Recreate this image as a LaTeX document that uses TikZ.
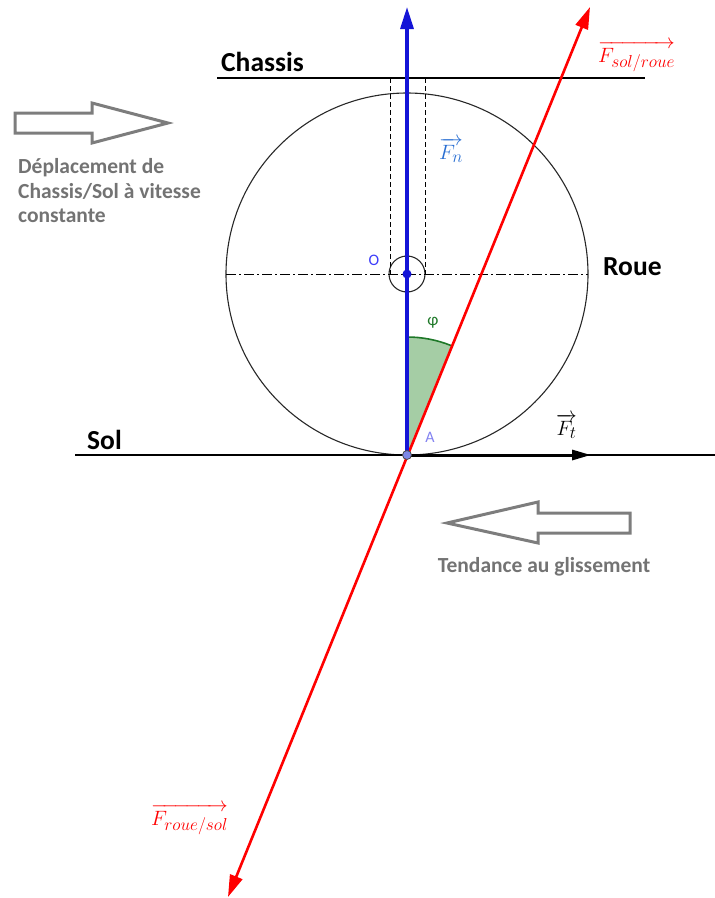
\documentclass[tikz,border=0pt]{standalone}
\usepackage{fontspec}
\setsansfont{Carlito}
\DeclareMathSizes{22}{22}{17}{13}
\usetikzlibrary{arrows.meta}
\definecolor{bluevec}{RGB}{20,20,215}
\definecolor{fnblue}{RGB}{40,110,210}
\definecolor{oblue}{RGB}{60,60,250}
\definecolor{alabel}{RGB}{130,130,240}
\definecolor{adot}{RGB}{125,135,230}
\definecolor{redvec}{RGB}{255,0,0}
\definecolor{angdark}{RGB}{30,120,40}
\definecolor{angfill}{RGB}{165,205,165}
\definecolor{hollow}{RGB}{125,125,125}
\definecolor{graytext}{RGB}{115,115,115}
\definecolor{wheel}{RGB}{40,40,40}
\tikzset{
  biglabel/.style={font=\sffamily\bfseries\fontsize{27.5}{32}\selectfont, inner sep=0pt, anchor=base west},
  graylabel/.style={font=\sffamily\bfseries\fontsize{21.5}{25}\selectfont, text=graytext, inner sep=0pt, anchor=base west},
  veclabel/.style={font=\fontsize{22}{26}\selectfont, inner sep=0pt},
  hollowarrow/.style={draw=hollow, line width=3pt, line join=miter},
  thinline/.style={draw=black, line width=1.3pt},
}
\begin{document}
\begin{tikzpicture}[x=1pt,y=-1pt]
\useasboundingbox (0,0) rectangle (715,898);
% coordinates
\coordinate (O) at (407,274);
\coordinate (A) at (407,455);
\coordinate (Ntop) at (407,7);
\coordinate (Ch1) at (217,78);
\coordinate (Ch2) at (645,78);
\coordinate (S1) at (75,455);
\coordinate (S2) at (715,455);
\coordinate (Rbot) at (228,897);
\coordinate (Rtop) at (590,7);
\coordinate (Ft) at (591,455);
\coordinate (H1) at (226,274);
\coordinate (H2) at (588,274);
\coordinate (DL1) at (390,78);
\coordinate (DL2) at (390,274);
\coordinate (DR1) at (425,78);
\coordinate (DR2) at (425,274);

% wheel
\draw[wheel, line width=1.1pt] (O) circle[radius=181];
\draw[wheel, line width=1.1pt] (O) circle[radius=18];
% chassis and ground
\draw[thinline] (Ch1) -- (Ch2);
\draw[thinline] (S1) -- (S2);
% dashed verticals
\draw[black, line width=0.9pt, dash pattern=on 5pt off 3pt] (DL1) -- (DL2);
\draw[black, line width=0.9pt, dash pattern=on 5pt off 3pt] (DR1) -- (DR2);
% dash-dot horizontal
\draw[black, line width=0.9pt, dash pattern=on 10pt off 3pt on 2pt off 3pt] (H1) -- (H2);

% angle phi
\fill[angfill] (A) -- ++(270:118) arc[start angle=270, end angle=292.13, radius=118] -- cycle;
\draw[angdark, line width=1.6pt] (A) ++(270:118) arc[start angle=270, end angle=292.13, radius=118];

% red line
\draw[redvec, line width=2.6pt, {Triangle[length=22pt,width=13pt]}-{Triangle[length=22pt,width=13pt]}] (Rbot) -- (Rtop);
% blue normal
\draw[bluevec, line width=3.2pt, -{Triangle[length=22pt,width=13pt]}] (A) -- (Ntop);
% tangential
\draw[black, line width=3pt, -{Triangle[length=19pt,width=10pt]}] (A) -- (Ft);

% dots
\fill[bluevec] (O) circle[radius=4.5];
\filldraw[fill=adot, draw=black!70, line width=0.8pt] (A) circle[radius=4.5];

% hollow arrows
\draw[hollowarrow] (15,113) -- (92,113) -- (92,103) -- (168,123) -- (92,143) -- (92,133) -- (15,133) -- cycle;
\draw[hollowarrow] (630,513) -- (538,513) -- (538,502) -- (447,523) -- (538,543) -- (538,533) -- (630,533) -- cycle;

% labels
\node[biglabel] (chassis) at (221,71) {Chassis};
\node[biglabel] (sol) at (87,449) {Sol};
\node[biglabel] (roue) at (603,275) {Roue};
\node[graylabel] (dep1) at (18,173) {Déplacement de};
\node[graylabel] (dep2) at (18,198) {Chassis/Sol à vitesse};
\node[graylabel] (dep3) at (18,222) {constante};
\node[graylabel, anchor=base] (tend) at (544,572) {Tendance au glissement};

\node[font=\sffamily\fontsize{16}{19}\selectfont, text=oblue, inner sep=0pt] (olab) at (374,260) {O};
\node[font=\sffamily\fontsize{16}{19}\selectfont, text=alabel, inner sep=0pt] (alab) at (430,437) {A};
\node[font=\sffamily\fontsize{17}{20}\selectfont, text=angdark, inner sep=0pt] (philab) at (433,323) {φ};

\node[veclabel, text=redvec, anchor=base west] (fsr) at (598,62) {$\overrightarrow{F_{sol/roue}}$};
\node[veclabel, text=redvec, anchor=base west] (frs) at (151,825) {$\overrightarrow{F_{roue/sol}}$};
\node[veclabel, text=fnblue, anchor=base west] (fn) at (439,159) {$\overrightarrow{F_{n}}$};
\node[veclabel, anchor=base west] (ftl) at (556,435) {$\overrightarrow{F_{t}}$};
\end{tikzpicture}
\end{document}
